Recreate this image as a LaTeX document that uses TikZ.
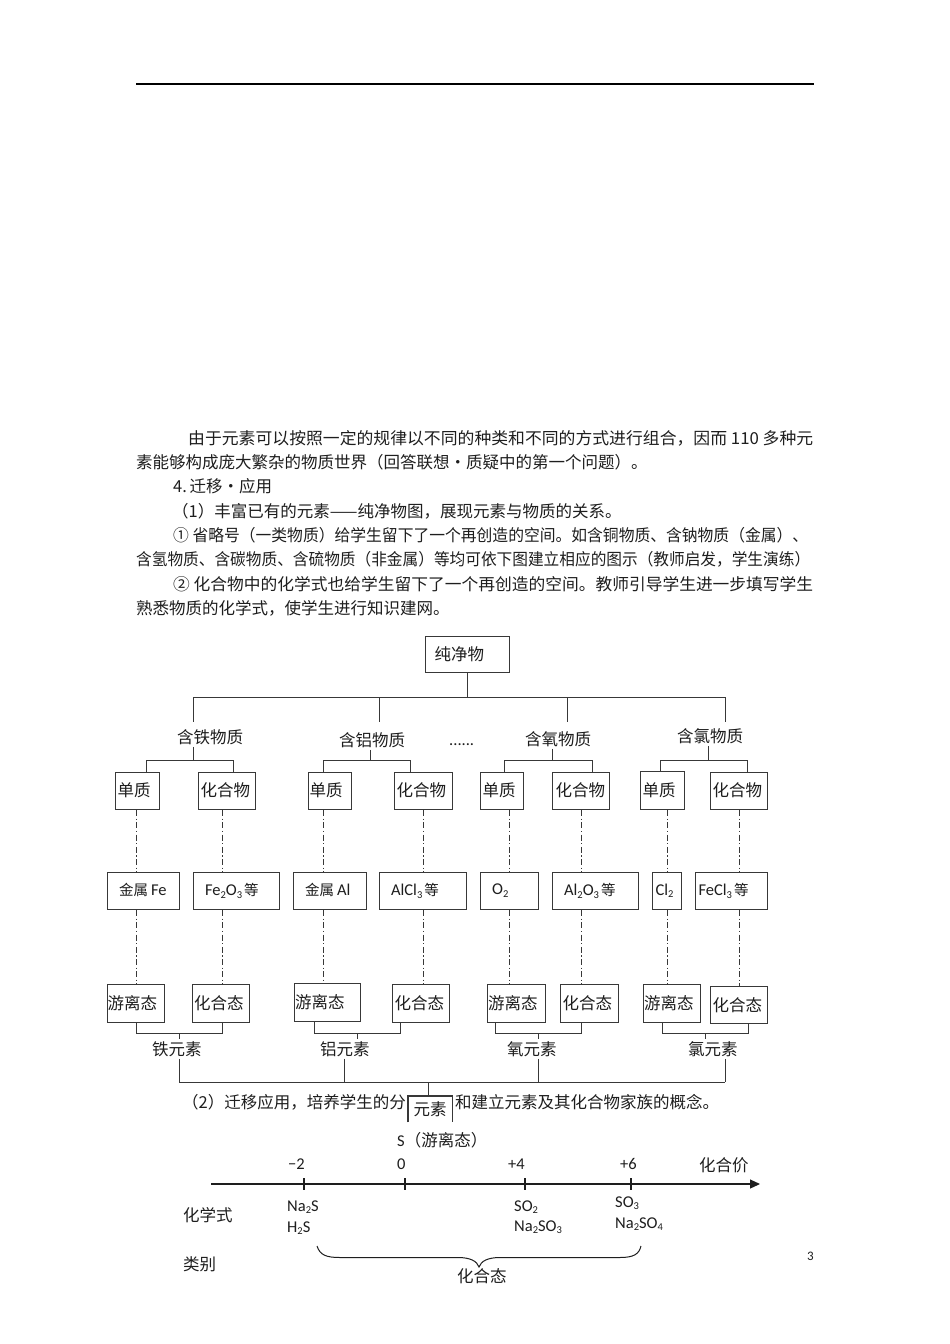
\documentclass[tikz,border=0pt]{standalone}
\usepackage{graphicx}
\usepackage{fontspec}
\setmainfont{Noto Sans CJK SC}
\newfontfamily\cjkf{Noto Sans CJK SC}
\newfontfamily\latf{Carlito}
\usetikzlibrary{arrows.meta}
\definecolor{ink}{HTML}{1E1E1E}
\definecolor{lc}{HTML}{383838}
\newcommand\cnsz{\cjkf\fontsize{16.5}{18}\selectfont}
\newcommand\cnsm{\cjkf\fontsize{14.5}{16}\selectfont}
\newcommand\ltsz{\latf\fontsize{16.5}{18}\selectfont}
\newcommand\ltrw{\latf\fontsize{16.5}{18}\selectfont}
\newcommand\sbx[1]{\raisebox{-2.8pt}{\fontsize{10.5}{10.5}\selectfont #1}}
\newcommand\bxn[8]{%
  \pgfmathsetmacro\bxw{#4-#2}\pgfmathsetmacro\bxh{#5-#3}\pgfmathsetmacro\bxt{#4-#2-4}%
  \node[bx, minimum width=\bxw pt, minimum height=\bxh pt, text width=\bxt pt] (#1) at (#2,#3) {\hspace*{#6pt}\raisebox{#7pt}{#8}};}
\begin{document}
\begin{tikzpicture}[x=1pt,y=-1pt,
  ln/.style={draw=lc, line width=1pt},
  dd/.style={draw=lc, line width=0.9pt, dash pattern=on 6pt off 2.5pt on 1.2pt off 2.5pt},
  bx/.style={draw=lc, line width=1.2pt, inner xsep=2pt, inner ysep=0pt, anchor=north west, align=left, text=ink, font=\cnsz},
  lbl/.style={inner xsep=0pt, inner ysep=2pt, anchor=west, text=ink, font=\cnsz},
  txt/.style={inner sep=0pt, anchor=west, text=ink, font=\cnsz},
  lt/.style={inner sep=0pt, anchor=base west, text=ink, font=\ltsz},
]
\useasboundingbox (0,0) rectangle (950,1344);
\fill[white] (0,0) rectangle (950,1344);
% header rule
\draw[line width=1.6pt, black] (136,84) -- (814,84);
% body text
\node[txt] (p1) at (188,438) {\resizebox{625pt}{\height}{由于元素可以按照一定的规律以不同的种类和不同的方式进行组合，因而 110 多种元}};
\node[txt] (p2) at (136,462.3) {素能够构成庞大繁杂的物质世界（回答联想\makebox[1em]{•}质疑中的第一个问题）。};
\node[txt] (p3) at (173,486.6) {4.\,迁移\makebox[1em]{•}应用};
\node[txt] (p4) at (172,510.9) {（1）丰富已有的元素——纯净物图，展现元素与物质的关系。};
\node[txt] (p5) at (173,535.2) {\resizebox{635pt}{\height}{① 省略号（一类物质）给学生留下了一个再创造的空间。如含铜物质、含钠物质（金属）、}};
\node[txt] (p6) at (136,559.5) {\resizebox{674pt}{\height}{含氢物质、含碳物质、含硫物质（非金属）等均可依下图建立相应的图示（教师启发，学生演练）}};
\node[txt] (p7) at (173,583.8) {\resizebox{640pt}{\height}{② 化合物中的化学式也给学生留下了一个再创造的空间。教师引导学生进一步填写学生}};
\node[txt] (p8) at (136,608.1) {熟悉物质的化学式，使学生进行知识建网。};

% top box
\bxn{pure}{425}{636}{509}{672}{7}{3}{纯净物}
% category labels
\node[lbl] (L1) at (177,737) {含铁物质};
\node[lbl] (L2) at (339,740) {含铝物质};
\node[lt] (dots) at (449,745) {......};
\node[lbl] (L3) at (525,739) {含氧物质};
\node[lbl] (L4) at (677,736) {含氯物质};
% top bus
\coordinate (q1) at (193,697); \coordinate (q2) at (379,697);
\coordinate (q3) at (567,697); \coordinate (q4) at (725,697);
\coordinate (q1e) at (193,722); \coordinate (q2e) at (379,722);
\coordinate (q3e) at (567,722); \coordinate (q4e) at (725,722);
\draw[ln] (pure.south) -- (pure.south |- q1);
\draw[ln] (q1) -- (q4);
\draw[ln] (q1) -- (q1e); \draw[ln] (q2) -- (q2e);
\draw[ln] (q3) -- (q3e); \draw[ln] (q4) -- (q4e);

% row 1
\bxn{d1}{115}{772}{159}{809}{0}{2.5}{单质}
\bxn{h1}{198}{772}{255}{809}{0}{2.5}{化合物}
\bxn{d2}{308}{772}{351}{809}{-1}{2.5}{单质}
\bxn{h2}{394}{772}{452}{809}{0}{2.5}{化合物}
\bxn{d3}{480}{772}{523}{809}{0}{2.5}{单质}
\bxn{h3}{552}{772}{609}{809}{1}{2.5}{化合物}
\bxn{d4}{640}{771}{684}{809}{0}{2.5}{单质}
\bxn{h4}{710}{772}{767}{809}{0}{2.5}{化合物}
% row 2
\bxn{r1}{107}{872}{179}{909}{9.5}{3.5}{{\cnsm 金属}\hspace{3pt}{\ltrw Fe}}
\bxn{s1}{193}{872}{279}{909}{9.5}{3.5}{{\ltrw Fe\sbx{2}O\sbx{3}}\hspace{2pt}{\cnsm 等}}
\bxn{r2}{293}{872}{366}{909}{9.5}{3.5}{{\cnsm 金属}\hspace{3pt}{\ltrw Al}}
\bxn{s2}{379}{872}{466}{909}{9.5}{3.5}{{\ltrw AlCl\sbx{3}}\hspace{2pt}{\cnsm 等}}
\bxn{r3}{480}{872}{538}{909}{9.5}{3.5}{{\ltrw O\sbx{2}}}
\bxn{s3}{552}{872}{638}{909}{9.5}{3.5}{{\ltrw Al\sbx{2}O\sbx{3}}\hspace{2pt}{\cnsm 等}}
\bxn{r4}{652}{872}{681}{909}{1}{3.5}{{\ltrw Cl\sbx{2}}}
\bxn{s4}{695}{872}{767}{909}{1}{3.5}{{\ltrw FeCl\sbx{3}}\hspace{2pt}{\cnsm 等}}
% row 3
\bxn{y1}{107}{984}{164}{1022}{-2}{1}{游离态}
\bxn{t1}{192}{984}{249}{1022}{-0.5}{1}{化合态}
\bxn{y2}{294}{983}{360}{1021}{-1.5}{2.5}{游离态}
\bxn{t2}{392}{984}{449}{1022}{0}{1}{化合态}
\bxn{y3}{487}{984}{545}{1022}{-1.5}{1}{游离态}
\bxn{t3}{560}{984}{618}{1022}{0}{1}{化合态}
\bxn{y4}{643}{984}{700}{1022}{-1.5}{1}{游离态}
\bxn{t4}{710}{986}{767}{1023}{0}{1}{化合态}

% group brackets under category labels
\coordinate (g1l) at (146,760); \coordinate (g1t) at (193,760); \coordinate (g1r) at (233,760);
\coordinate (g2l) at (323,760); \coordinate (g2t) at (370,760); \coordinate (g2r) at (410,760);
\coordinate (g3l) at (504,760); \coordinate (g3t) at (552,760); \coordinate (g3r) at (592,760);
\coordinate (g4l) at (660,760); \coordinate (g4t) at (708,760); \coordinate (g4r) at (747,760);
\draw[ln] (L1.south -| g1t) -- (g1t);
\draw[ln] (g1l |- d1.north) -- (g1l) -- (g1r) -- (g1r |- h1.north);
\draw[ln] (L2.south -| g2t) -- (g2t);
\draw[ln] (g2l |- d2.north) -- (g2l) -- (g2r) -- (g2r |- h2.north);
\draw[ln] (L3.south -| g3t) -- (g3t);
\draw[ln] (g3l |- d3.north) -- (g3l) -- (g3r) -- (g3r |- h3.north);
\draw[ln] (L4.south -| g4t) -- (g4t);
\draw[ln] (g4l |- d4.north) -- (g4l) -- (g4r) -- (g4r |- h4.north);

% dash-dot columns
\coordinate (c1) at (136,0); \coordinate (c2) at (222,0);
\coordinate (c3) at (323,0); \coordinate (c4) at (423,0);
\coordinate (c5) at (509,0); \coordinate (c6) at (581,0);
\coordinate (c7) at (667,0); \coordinate (c8) at (739,0);
\draw[dd] (d1.south -| c1) -- (r1.north -| c1); \draw[dd] (r1.south -| c1) -- (y1.north -| c1);
\draw[dd] (h1.south -| c2) -- (s1.north -| c2); \draw[dd] (s1.south -| c2) -- (t1.north -| c2);
\draw[dd] (d2.south -| c3) -- (r2.north -| c3); \draw[dd] (r2.south -| c3) -- (y2.north -| c3);
\draw[dd] (h2.south -| c4) -- (s2.north -| c4); \draw[dd] (s2.south -| c4) -- (t2.north -| c4);
\draw[dd] (d3.south -| c5) -- (r3.north -| c5); \draw[dd] (r3.south -| c5) -- (y3.north -| c5);
\draw[dd] (h3.south -| c6) -- (s3.north -| c6); \draw[dd] (s3.south -| c6) -- (t3.north -| c6);
\draw[dd] (d4.south -| c7) -- (r4.north -| c7); \draw[dd] (r4.south -| c7) -- (y4.north -| c7);
\draw[dd] (h4.south -| c8) -- (s4.north -| c8); \draw[dd] (s4.south -| c8) -- (t4.north -| c8);

% element labels
\node[lbl] (E1) at (152,1049) {铁元素};
\node[lbl] (E2) at (320,1049) {铝元素};
\node[lbl] (E3) at (507,1049) {氧元素};
\node[lbl] (E4) at (688,1049) {氯元素};
% bottom brackets
\coordinate (b1l) at (136,1033); \coordinate (b1t) at (179,1033); \coordinate (b1r) at (222,1033);
\coordinate (b2l) at (314,1033); \coordinate (b2t) at (357,1033); \coordinate (b2r) at (400,1033);
\coordinate (b3l) at (495,1033); \coordinate (b3t) at (538,1033); \coordinate (b3r) at (581,1033);
\coordinate (b4l) at (662,1033); \coordinate (b4t) at (705,1033); \coordinate (b4r) at (748,1033);
\draw[ln] (b1l |- y1.south) -- (b1l) -- (b1r) -- (b1r |- t1.south); \draw[ln] (b1t) -- (b1t |- E1.north);
\draw[ln] (b2l |- y2.south) -- (b2l) -- (b2r) -- (b2r |- t2.south); \draw[ln] (b2t) -- (b2t |- E2.north);
\draw[ln] (b3l |- y3.south) -- (b3l) -- (b3r) -- (b3r |- t3.south); \draw[ln] (b3t) -- (b3t |- E3.north);
\draw[ln] (b4l |- y4.south) -- (b4l) -- (b4r) -- (b4r |- t4.south); \draw[ln] (b4t) -- (b4t |- E4.north);
% lower bus
\coordinate (v1) at (179,1082); \coordinate (v2) at (344,1082);
\coordinate (v3) at (538,1082); \coordinate (v4) at (725,1082);
\coordinate (vc) at (428,1082);
\draw[ln] (E1.south -| v1) -- (v1); \draw[ln] (E2.south -| v2) -- (v2);
\draw[ln] (E3.south -| v3) -- (v3); \draw[ln] (E4.south -| v4) -- (v4);
\draw[ln] (v1) -- (v4);

% paragraph (2), split round the element box that covers its middle
\node[txt, anchor=east] (p9a) at (406,1102) {（2）迁移应用，培养学生的分};
\node[txt] (p9b) at (455,1102) {和建立元素及其化合物家族的概念。};
\node[fill=white, minimum width=44pt, minimum height=26pt, anchor=north west, inner sep=0pt, text=ink, font=\cnsz] (ys) at (408,1096) {\raisebox{-4pt}{元素}};
\draw[draw=lc, line width=1.2pt] (ys.south west) -- (ys.north west) -- (ys.north east) -- (ys.south east);
\draw[ln] (vc) -- (vc |- ys.north);

% valence axis
\node[lt] (s0) at (397,1146) {S{\cnsz（游离态）}};
\coordinate (ax0) at (211,1184); \coordinate (ax1) at (760,1184);
\draw[line width=1.2pt, ink, -{Triangle[length=10pt,width=9pt]}] (ax0) -- (ax1);
\draw[line width=1.1pt, ink] (304,1178) -- (304,1190);
\draw[line width=1.1pt, ink] (405,1178) -- (405,1190);
\draw[line width=1.1pt, ink] (525,1178) -- (525,1190);
\draw[line width=1.1pt, ink] (631,1178) -- (631,1190);
\node[lt] (vm2) at (288,1169.5) {−2};
\node[lt] (v0) at (397,1169.5) {0};
\node[lt] (vp4) at (508,1169.5) {+4};
\node[lt] (vp6) at (620,1169.5) {+6};
\node[txt] (hjj) at (699,1165) {化合价};
\node[txt] (hxs) at (183,1215) {化学式};
\node[lt] (f1) at (287,1211) {Na\sbx{2}S};
\node[lt] (f2) at (287,1232) {H\sbx{2}S};
\node[lt] (f3) at (514,1211) {SO\sbx{2}};
\node[lt] (f4) at (514,1231) {Na\sbx{2}SO\sbx{3}};
\node[lt] (f5) at (615,1207) {SO\sbx{3}};
\node[lt] (f6) at (615,1228) {Na\sbx{2}SO\sbx{4}};
\node[txt] (lb) at (183,1264) {类别};
\draw[line width=1pt, ink] (317,1246) .. controls (320,1255) and (326,1257.5) .. (340,1257.5) -- (458,1257.5) .. controls (470,1257.5) and (477,1261) .. (479,1267) .. controls (481,1261) and (488,1257.5) .. (500,1257.5) -- (620,1257.5) .. controls (634,1257.5) and (639,1254) .. (641,1246);
\node[txt] (hht) at (457,1276) {化合态};
\node[inner sep=0pt, anchor=base west, text=ink, font=\latf\fontsize{13}{14}\selectfont] (pg) at (807,1260) {3};
\end{tikzpicture}
\end{document}
